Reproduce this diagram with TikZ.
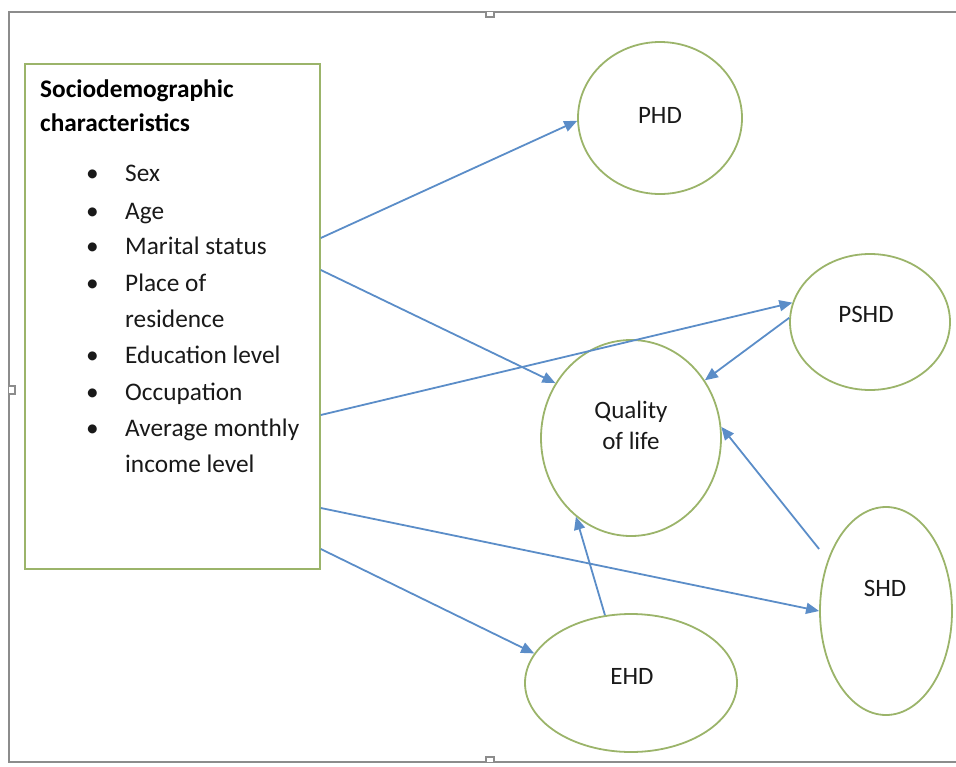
\documentclass[tikz,border=0pt]{standalone}
\usepackage{fontspec}
\setmainfont{Carlito}
\usetikzlibrary{shapes.geometric,arrows.meta}
\definecolor{boxgreen}{HTML}{9BB46A}
\definecolor{arrowblue}{HTML}{5B8DC8}
\definecolor{framegrey}{HTML}{8C8C8C}
\tikzset{
  frameline/.style={draw=framegrey, line width=1.5pt},
  greenbox/.style={draw=boxgreen, line width=1.8pt, rectangle, inner sep=0pt},
  oval/.style={draw=boxgreen, line width=1.8pt, ellipse, inner sep=0pt},
  lbl/.style={font=\fontsize{25}{28}\selectfont, text=black!90, inner sep=0pt},
  listtxt/.style={font=\fontsize{25.3}{28}\selectfont, text=black!90, inner sep=0pt, anchor=base west},
  headtxt/.style={font=\fontsize{25.3}{28}\selectfont\bfseries, text=black, inner sep=0pt, anchor=base west},
  conn/.style={draw=arrowblue, line width=1.8pt, -{Triangle[length=13pt,width=11pt]}},
}
\begin{document}
\begin{tikzpicture}[x=1pt,y=-1pt]
\useasboundingbox (0,0) rectangle (956,766);
% outer frame
\draw[frameline] (956,12) -- (9,12) -- (9,762) -- (956,762);
\draw[frameline, fill=white] (486,12) -- (486,17) -- (494,17) -- (494,12);
\draw[frameline, fill=white] (486,762) -- (486,757) -- (494,757) -- (494,762);
\draw[frameline, fill=white] (9,386) -- (15,386) -- (15,394) -- (9,394);
% box
\node[greenbox, minimum width=295pt, minimum height=505pt, anchor=north west] (box) at (24,63) {};
\node[headtxt] (h1) at (40,97) {Sociodemographic};
\node[headtxt] (h2) at (40,131) {characteristics};
\foreach \nm/\t/\y/\b in {s1/Sex/181/1, s2/Age/219/1, s3/Marital status/254/1, s4/Place of/291/1, s5/residence/327/0, s6/Education level/363/1, s7/Occupation/400/1, s8/Average monthly/436/1, s9/income level/472/0}{
  \node[listtxt] (\nm) at (125,\y) {\t};
  \ifnum\b=1 \node[listtxt] (b\nm) at (86,\y) {\textbullet}; \fi
}
% ovals
\node[oval, minimum width=164pt, minimum height=152pt] (phd) at (660,118) {};
\node[oval, minimum width=160pt, minimum height=136pt] (pshd) at (870,322) {};
\node[oval, minimum width=180pt, minimum height=196pt] (qol) at (631,438) {};
\node[oval, minimum width=132pt, minimum height=208pt] (shd) at (886,611) {};
\node[oval, minimum width=212pt, minimum height=138pt] (ehd) at (631,683) {};
\node[lbl] (phdl) at (660,115) {PHD};
\node[lbl] (pshdl) at (866,314) {PSHD};
\node[lbl] (qol1) at (631,412) {Quality};
\node[lbl] (qol2) at (631,441) {of life};
\node[lbl] (shdl) at (885,588) {SHD};
\node[lbl] (ehdl) at (632,676) {EHD};
% connectors
\draw[conn] ([yshift=-175pt]box.north east) -- (phd.182);
\draw[conn] ([yshift=-207pt]box.north east) -- (qol.144);
\draw[conn] ([yshift=-352pt]box.north east) -- (pshd.166);
\draw[conn] (pshd.177) -- (qol.38);
\draw[conn] ([yshift=62pt]shd.west) -- (qol.7);
\draw[conn] ([yshift=-445pt]box.north east) -- (shd.west);
\draw[conn] ([yshift=-486pt]box.north east) -- (ehd.163);
\draw[conn] (ehd.111) -- (qol.235);
\end{tikzpicture}
\end{document}
